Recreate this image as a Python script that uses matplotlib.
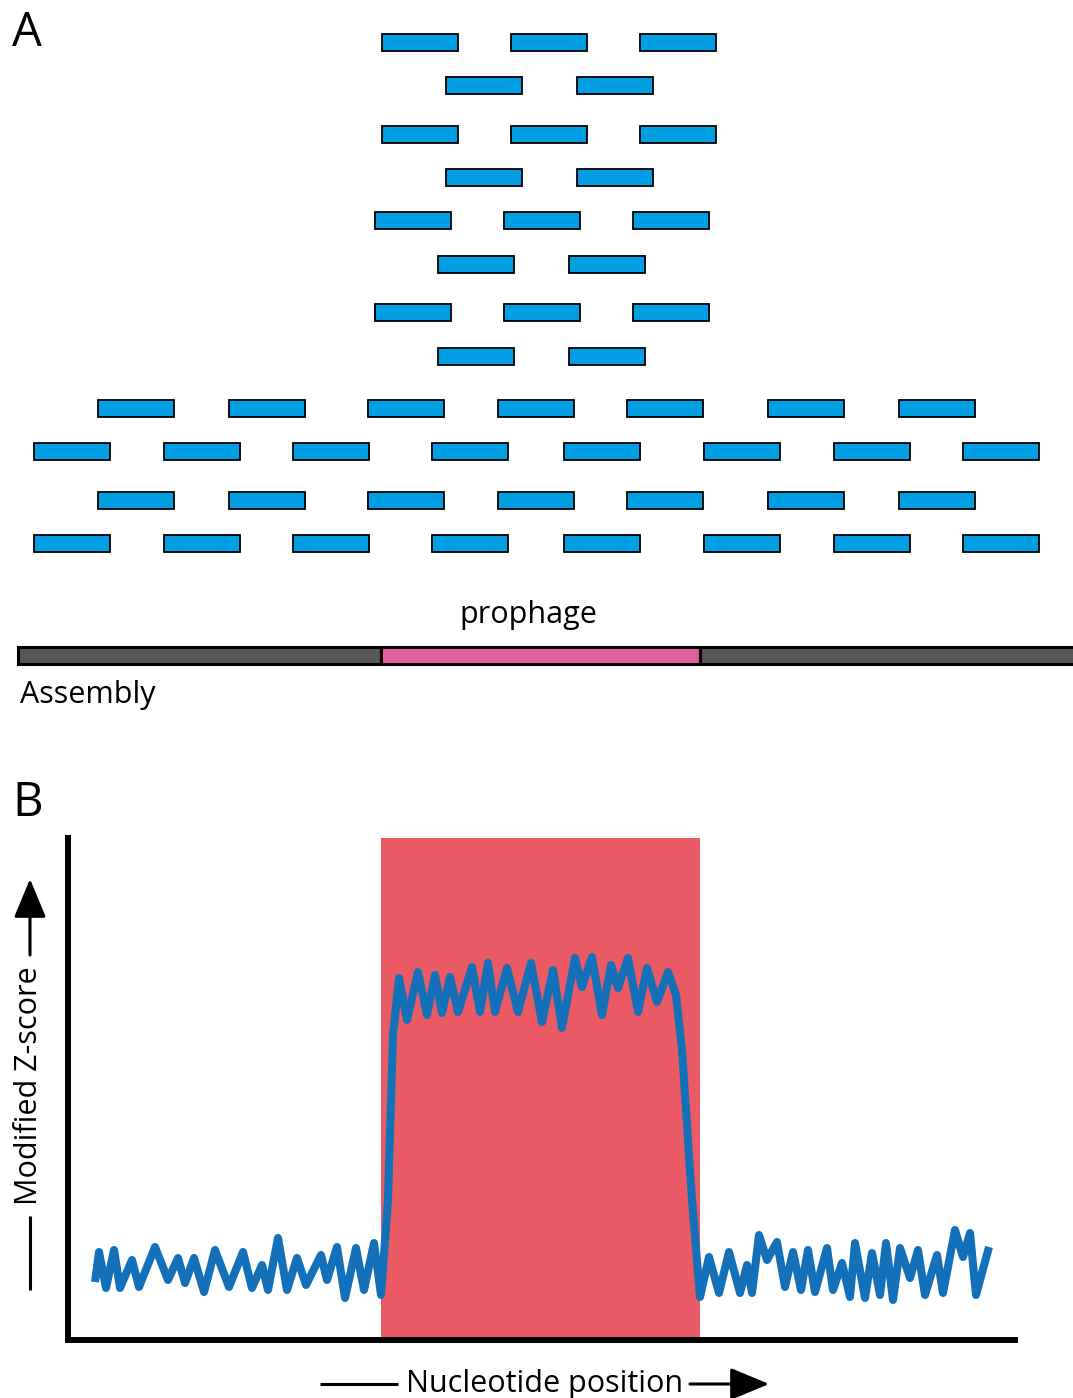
import matplotlib
matplotlib.use("Agg")
import matplotlib.pyplot as plt
from matplotlib.patches import FancyArrowPatch

# ---------------- data ----------------
# Panel A: mapped reads (start positions per stacked row) and row depth positions
read_length = 76
row_depth = [42, 85, 134, 177, 220, 264, 312, 356, 408, 451, 500, 543]
read_starts = [
    [382, 511, 640],
    [446, 577],
    [382, 511, 640],
    [446, 577],
    [375, 504, 633],
    [438, 569],
    [375, 504, 633],
    [438, 569],
    [98, 229, 368, 498, 627, 768, 899],
    [34, 164, 293, 432, 564, 704, 834, 963],
    [98, 229, 368, 498, 627, 768, 899],
    [34, 164, 293, 432, 564, 704, 834, 963],
]
assembly_starts = [18, 381, 700]
assembly_ends = [381, 700, 1090]
assembly_kinds = ["contig", "prophage", "contig"]
prophage_start, prophage_end = 381, 700

# Panel B: modified Z-score along nucleotide position
position = [95, 99, 106, 114, 120, 132, 139, 155, 168, 178, 185, 194, 204, 215, 229,
            243, 252, 262, 268, 278, 287, 297, 306, 321, 327, 337, 345, 356, 364, 374,
            381, 388, 393, 399, 407, 418, 427, 435, 442, 450, 458, 472, 480, 488, 495,
            507, 518, 531, 542, 553, 562, 575, 582, 592, 602, 611, 618, 628, 638, 647,
            657, 668, 676, 682, 692, 700, 709, 719, 729, 740, 747, 752, 759, 767, 777,
            785, 793, 801, 808, 815, 827, 833, 842, 850, 855, 865, 872, 880, 886, 893,
            900, 910, 918, 925, 937, 943, 955, 963, 970, 976, 989]
zscore = [58, 88, 52, 90, 52, 80, 53, 93, 60, 82, 57, 82, 48, 90, 53,
          88, 52, 75, 50, 102, 50, 82, 55, 85, 60, 93, 42, 92, 50, 97,
          45, 140, 305, 362, 320, 368, 325, 365, 327, 363, 328, 373, 328, 377, 328,
          372, 328, 377, 318, 370, 312, 382, 353, 383, 325, 375, 352, 382, 328, 372,
          338, 368, 345, 290, 140, 43, 83, 47, 88, 47, 75, 47, 105, 80, 98,
          53, 88, 50, 90, 48, 92, 50, 77, 43, 97, 42, 87, 45, 97, 40,
          92, 62, 90, 45, 85, 47, 110, 83, 107, 45, 93]

# ---------------- style ----------------
plt.rcParams["font.family"] = ["Open Sans", "DejaVu Sans"]
READ_BLUE = "#009FE3"
CONTIG_GRAY = "#575757"
PROPHAGE_PINK = "#E0609E"
REGION_RED = "#EA5A64"
LINE_BLUE = "#1471B9"

W, H = 1073, 1398
fig = plt.figure(figsize=(W / 100, H / 100), dpi=100)

# overlay / panel A axes in pixel-like units
ov = fig.add_axes([0, 0, 1, 1])
ov.set_xlim(0, W)
ov.set_ylim(H, 0)
ov.axis("off")
ov.patch.set_alpha(0)

for depth, starts in zip(row_depth, read_starts):
    ov.barh([depth] * len(starts), [read_length] * len(starts), left=starts,
            height=17, color=READ_BLUE, edgecolor="black", linewidth=1.3)

seg_colors = [PROPHAGE_PINK if k == "prophage" else CONTIG_GRAY for k in assembly_kinds]
ov.barh([655] * 3, [e - s for s, e in zip(assembly_starts, assembly_ends)],
        left=assembly_starts, height=17, color=seg_colors,
        edgecolor="black", linewidth=2.2)

ov.text(12, 46, "A", fontsize=34, ha="left", va="baseline")
ov.text(12, 816, "B", fontsize=34, ha="left", va="baseline")
ov.text((prophage_start + prophage_end) / 2 - 12, 623, "prophage", fontsize=22,
        ha="center", va="baseline")
ov.text(20, 703, "Assembly", fontsize=22, ha="left", va="baseline")

# axis labels with arrows (panel B)
ov.text(545, 1392, "Nucleotide position", fontsize=22, ha="center", va="baseline")
ov.plot([320, 398], [1384, 1384], color="black", lw=2.2, solid_capstyle="butt")
ov.add_patch(FancyArrowPatch((690, 1384), (769, 1384),
                             arrowstyle="-|>,head_length=1.2,head_width=0.5",
                             mutation_scale=20, color="black", lw=2.2,
                             shrinkA=0, shrinkB=0))
ov.text(29, 1086, "Modified Z-score", fontsize=22, rotation=90,
        ha="center", va="center")
ov.plot([30, 30], [1216, 1290], color="black", lw=2.2, solid_capstyle="butt")
ov.add_patch(FancyArrowPatch((30, 955), (30, 879),
                             arrowstyle="-|>,head_length=1.2,head_width=0.5",
                             mutation_scale=20, color="black", lw=2.2,
                             shrinkA=0, shrinkB=0))

# panel B
ax = fig.add_axes([68 / W, (H - 1340) / H, (1015 - 68) / W, (1340 - 838) / H])
ax.set_xlim(68, 1015)
ax.set_ylim(0, 502)
ax.patch.set_alpha(0)
for s in ["top", "right"]:
    ax.spines[s].set_visible(False)
for s in ["left", "bottom"]:
    ax.spines[s].set_linewidth(4.3)
    ax.spines[s].set_capstyle("projecting")
ax.set_xticks([])
ax.set_yticks([])
ax.axvspan(prophage_start, prophage_end, color=REGION_RED, lw=0, zorder=1)
ax.plot(position, zscore, color=LINE_BLUE, lw=5.8, solid_joinstyle="round",
        solid_capstyle="butt", zorder=2)

fig.savefig("out.png", dpi=100)
